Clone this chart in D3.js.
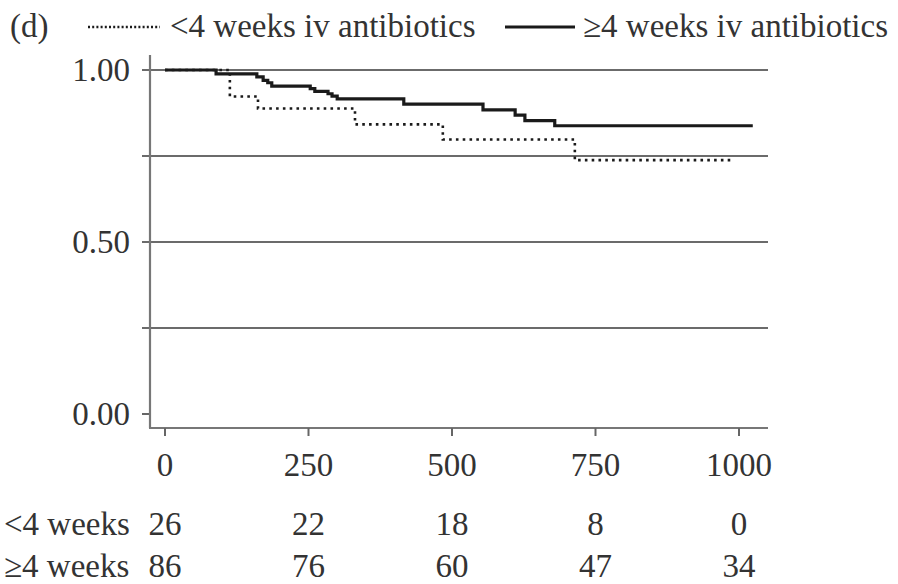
<!DOCTYPE html>
<html>
<head>
<meta charset="utf-8">
<script src="https://cdn.jsdelivr.net/npm/d3@7"></script>
<style>
  html, body { margin: 0; padding: 0; background: #fff; }
  svg { display: block; }
  text { font-family: "Liberation Serif", "DejaVu Serif", serif; fill: #333; }
</style>
</head>
<body>
<svg id="chart" width="898" height="584"></svg>
<script>
// ---- data ----
const panelLabel = "(d)";
const seriesNames = ["<4 weeks iv antibiotics", "≥4 weeks iv antibiotics"];
const xTicks = [0, 250, 500, 750, 1000];
const yLabelTicks = [0, 0.5, 1];
const yGridTicks = [0.25, 0.5, 0.75, 1];
const riskRowLabels = ["<4 weeks", "≥4 weeks"];
const riskShort = [26, 22, 18, 8, 0];
const riskLong = [86, 76, 60, 47, 34];
// Kaplan-Meier steps (days, survival)
const shortTimes = [0, 113, 162, 331, 484, 714, 988];
const shortSurv  = [1, 0.923, 0.888, 0.842, 0.798, 0.738, 0.738];
const longTimes = [0, 89, 160, 171, 179, 186, 253, 261, 284, 291, 300, 416, 554, 610, 627, 679, 1024];
const longSurv  = [1, 0.989, 0.980, 0.970, 0.963, 0.953, 0.946, 0.938, 0.931, 0.924, 0.916, 0.901, 0.884, 0.869, 0.853, 0.838, 0.838];

// ---- layout ----
const svg = d3.select("#chart");
const FS = 33;
const x = d3.scaleLinear().domain([0, 1000]).range([165, 739]);
const y = d3.scaleLinear().domain([0, 1]).range([414, 70]);
const axisX = 150, axisBottom = 428, plotRight = 768, axisTop = 55;

// gridlines (with tick stub left of axis)
svg.append("g").selectAll("line").data(yGridTicks).join("line")
  .attr("x1", axisX - 8).attr("x2", plotRight)
  .attr("y1", d => y(d)).attr("y2", d => y(d))
  .attr("stroke", "#3a3a3a").attr("stroke-width", 1.6);

// y tick at 0
svg.append("line").attr("x1", axisX - 8).attr("x2", axisX)
  .attr("y1", y(0)).attr("y2", y(0)).attr("stroke", "#666").attr("stroke-width", 2);

// axes lines
svg.append("line").attr("x1", axisX).attr("x2", axisX).attr("y1", axisTop).attr("y2", axisBottom)
  .attr("stroke", "#777").attr("stroke-width", 2.2);
svg.append("line").attr("x1", axisX - 1).attr("x2", plotRight).attr("y1", axisBottom).attr("y2", axisBottom)
  .attr("stroke", "#777").attr("stroke-width", 2.2);

// x ticks
svg.append("g").selectAll("line").data(xTicks).join("line")
  .attr("x1", d => x(d)).attr("x2", d => x(d))
  .attr("y1", axisBottom).attr("y2", axisBottom + 8)
  .attr("stroke", "#666").attr("stroke-width", 2);
svg.append("g").selectAll("text").data(xTicks).join("text")
  .attr("x", d => x(d)).attr("y", 476)
  .attr("text-anchor", "middle").attr("font-size", FS)
  .text(d => d);

// y labels
svg.append("g").selectAll("text").data(yLabelTicks).join("text")
  .attr("x", 130).attr("y", d => y(d) + 11)
  .attr("text-anchor", "end").attr("font-size", FS)
  .text(d => d3.format(".2f")(d));

// curves
const line = d3.line().x(d => x(d[0])).y(d => y(d[1])).curve(d3.curveStepAfter);
svg.append("path").datum(d3.zip(longTimes, longSurv))
  .attr("d", line).attr("fill", "none")
  .attr("stroke", "#1a1a1a").attr("stroke-width", 3.2);
svg.append("path").datum(d3.zip(shortTimes, shortSurv))
  .attr("d", line).attr("fill", "none")
  .attr("stroke", "#1a1a1a").attr("stroke-width", 2.6)
  .attr("stroke-dasharray", "2.6,4.2");

// legend
svg.append("text").attr("x", 10).attr("y", 37).attr("font-size", FS).text(panelLabel);
svg.append("line").attr("x1", 88).attr("x2", 160).attr("y1", 27).attr("y2", 27)
  .attr("stroke", "#1a1a1a").attr("stroke-width", 2.6).attr("stroke-dasharray", "2,2.2");
svg.append("text").attr("x", 170).attr("y", 37).attr("font-size", FS).text(seriesNames[0]);
svg.append("line").attr("x1", 505).attr("x2", 575).attr("y1", 27).attr("y2", 27)
  .attr("stroke", "#1a1a1a").attr("stroke-width", 3.2);
svg.append("text").attr("x", 583).attr("y", 37).attr("font-size", FS).text(seriesNames[1]);

// risk table
const rows = [riskShort, riskLong];
const rowY = [535, 577];
rows.forEach((vals, i) => {
  svg.append("text").attr("x", 4).attr("y", rowY[i]).attr("font-size", FS).text(riskRowLabels[i]);
  svg.append("g").selectAll("text").data(vals).join("text")
    .attr("x", (d, j) => x(xTicks[j])).attr("y", rowY[i])
    .attr("text-anchor", "middle").attr("font-size", FS)
    .text(d => d);
});
</script>
</body>
</html>
